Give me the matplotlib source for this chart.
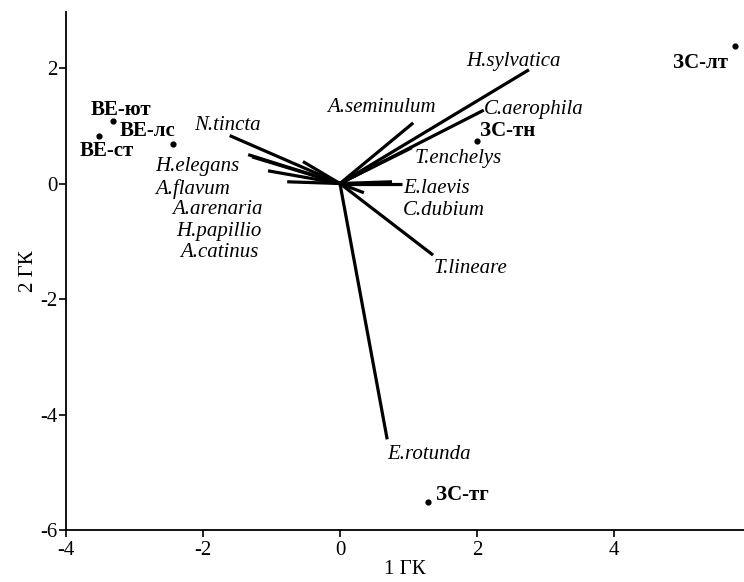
import matplotlib
matplotlib.use("Agg")
import matplotlib.pyplot as plt

# species vectors (1 ГК, 2 ГК)
vec_x = [2.76, 2.10, 1.07, 1.05, 0.90, 0.76, 0.35, 1.36, 0.69,
         -1.61, -1.34, -1.28, -1.05, -0.77, -0.54]
vec_y = [1.97, 1.27, 1.05, 0.62, 0.00, 0.03, -0.16, -1.24, -4.43,
         0.83, 0.50, 0.46, 0.22, 0.03, 0.38]

species = ["H.sylvatica", "A.seminulum", "C.aerophila", "T.enchelys",
           "E.laevis", "C.dubium", "T.lineare", "E.rotunda",
           "N.tincta", "H.elegans", "A.flavum", "A.arenaria",
           "H.papillio", "A.catinus"]

# sites
sites = ["ЗС-лт", "ЗС-тн", "ЗС-тг", "ВЕ-ют", "ВЕ-лс", "ВЕ-ст"]
site_x = [5.77, 2.00, 1.28, -3.31, -2.44, -3.52]
site_y = [2.38, 0.74, -5.52, 1.09, 0.69, 0.83]

# label placement (data coords, left / center)
species_pos = {
    "H.sylvatica": (1.85, 2.12), "A.seminulum": (-0.19, 1.31),
    "C.aerophila": (2.10, 1.29), "T.enchelys": (1.09, 0.43),
    "E.laevis": (0.93, -0.09), "C.dubium": (0.92, -0.47),
    "T.lineare": (1.37, -1.48), "E.rotunda": (0.69, -4.69),
    "N.tincta": (-2.13, 1.00), "H.elegans": (-2.69, 0.29),
    "A.flavum": (-2.70, -0.09), "A.arenaria": (-2.45, -0.45),
    "H.papillio": (-2.39, -0.83), "A.catinus": (-2.34, -1.19),
}
site_pos = {
    "ЗС-лт": (4.86, 2.09), "ЗС-тн": (2.04, 0.91), "ЗС-тг": (1.40, -5.40),
    "ВЕ-ют": (-3.64, 1.28), "ВЕ-лс": (-3.21, 0.91), "ВЕ-ст": (-3.80, 0.57),
}

plt.rcParams['font.family'] = ['Liberation Serif', 'DejaVu Serif']
plt.rcParams['font.size'] = 15
plt.rcParams['axes.unicode_minus'] = False

fig = plt.figure(figsize=(7.44, 5.82), dpi=100)
ax = fig.add_axes([66 / 744, 52 / 582, 678 / 744, 518 / 582])

for x, y in zip(vec_x, vec_y):
    ax.plot([0, x], [0, y], color='black', lw=2.3, solid_capstyle='butt')

ax.scatter(site_x, site_y, s=12, color='black', zorder=3)

for name in species:
    x, y = species_pos[name]
    ax.text(x, y, name, style='italic', ha='left', va='center', fontsize=15)
for name in sites:
    x, y = site_pos[name]
    ax.text(x, y, name, weight='bold', ha='left', va='center', fontsize=15)

ax.set_xlim(-4, 5.9)
ax.set_ylim(-6, 2.97)
ax.set_xticks([-4, -2, 0, 2, 4])
ax.set_yticks([-6, -4, -2, 0, 2])
ax.spines['top'].set_visible(False)
ax.spines['right'].set_visible(False)
ax.spines['left'].set_linewidth(1.3)
ax.spines['bottom'].set_linewidth(1.3)
ax.tick_params(direction='out', length=5, width=1.2, labelsize=15, pad=1)
ax.tick_params(axis='x', pad=3)
ax.set_xlabel("1 ГК", fontsize=15, labelpad=0)
ax.set_ylabel("2 ГК", fontsize=15, labelpad=2)

fig.savefig("out.png", dpi=100)
